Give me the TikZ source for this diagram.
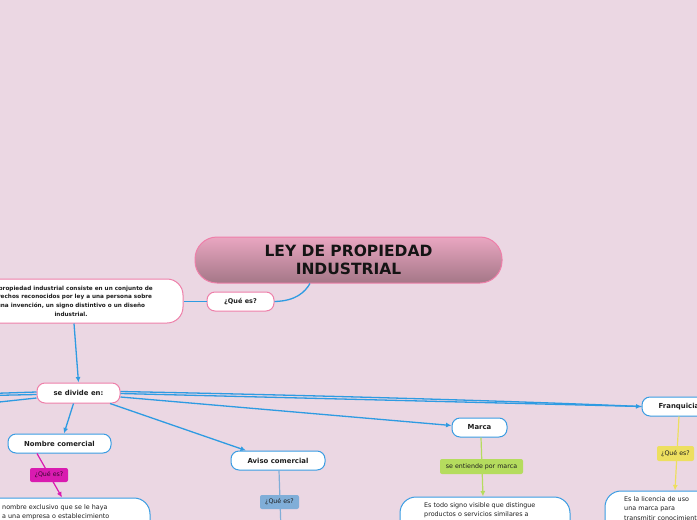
\documentclass[tikz,border=0pt]{standalone}
\usepackage{fontspec}
\setmainfont{DejaVu Sans}
\usetikzlibrary{arrows.meta,calc}
\definecolor{bg}{HTML}{EBD7E3}
\definecolor{pinkb}{HTML}{EE7FA9}
\definecolor{blueb}{HTML}{3A9CE2}
\definecolor{linkblue}{HTML}{2E9BE2}
\definecolor{magc}{HTML}{D91BB0}
\definecolor{avc}{HTML}{80AED8}
\definecolor{grc}{HTML}{B5DC5E}
\definecolor{yec}{HTML}{EDDF5F}
\definecolor{ttop}{HTML}{E9A6C1}
\definecolor{tbot}{HTML}{A47787}
\definecolor{txt}{HTML}{1E1E1E}
\tikzset{
 base/.style={draw, fill=white, line width=1pt, rounded corners=8pt, inner sep=0pt, text=txt, font=\bfseries\fontsize{6.9}{8}\selectfont},
 pinkbox/.style={base, draw=pinkb},
 bluebox/.style={base, draw=blueb},
 defbox/.style={draw=blueb, fill=white, line width=1pt, rounded corners=16pt},
 tag/.style={rounded corners=2pt, inner sep=0pt, font=\fontsize{6.3}{7.5}\selectfont, text=txt},
 link/.style={draw=linkblue, line width=1.3pt},
 arrowend/.style={-{Latex[length=5.5pt,width=5pt]}},
 bodytext/.style={anchor=north west, inner sep=0pt, align=left, font=\fontsize{6.4}{9.3}\selectfont, text=txt},
}
\begin{document}
\begin{tikzpicture}[x=1pt,y=-1pt]
\fill[bg] (0,0) rectangle (697,520);
\useasboundingbox (0,0) rectangle (697,520);
\clip (0,0) rectangle (697,520);

% main nodes
\node[draw=pinkb, line width=1pt, rounded corners=22pt, top color=ttop, bottom color=tbot, minimum width=307pt, minimum height=46pt, align=center, inner sep=0pt, font=\bfseries\fontsize{15.5}{18}\selectfont, text=black!92] (title) at (348.5,260) {LEY DE PROPIEDAD\\INDUSTRIAL};
\node[pinkbox, minimum width=67pt, minimum height=19pt, font=\bfseries\fontsize{6.5}{8}\selectfont] (qe) at (240.5,301.5) {¿Qué es?};
\node[pinkbox, rounded corners=16pt, minimum width=224pt, minimum height=44pt, align=center, font=\bfseries\fontsize{5.7}{8.7}\selectfont] (def) at (71,301) {La propiedad industrial consiste en un conjunto de\\derechos reconocidos por ley a una persona sobre\\una invención, un signo distintivo o un diseño\\industrial.};
\node[pinkbox, minimum width=83pt, minimum height=20pt] (sd) at (78.5,393) {se divide en:};
\node[bluebox, minimum width=103pt, minimum height=19pt] (nc) at (59.5,443.5) {Nombre comercial};
\node[bluebox, minimum width=94pt, minimum height=19pt] (av) at (278,460.5) {Aviso comercial};
\node[bluebox, minimum width=55pt, minimum height=19pt] (ma) at (479.5,427.5) {Marca};
\node[bluebox, minimum width=74pt, minimum height=19pt] (fr) at (679,406.5) {Franquicia};

% definition boxes
\node[defbox, minimum width=300pt, minimum height=54pt] (nd) at (0,525) {};
\node[bodytext] (ndt) at (2,504) {nombre exclusivo que se le haya\\a una empresa o establecimiento};
\node[defbox, minimum width=170pt, minimum height=54pt] (md) at (485,524) {};
\node[bodytext] (mdt) at (424,502) {Es todo signo visible que distingue\\productos o servicios similares a};
\node[defbox, minimum width=170pt, minimum height=60pt] (fd) at (690,521) {};
\node[bodytext] (fdt) at (624,496.5) {Es la licencia de uso\\una marca para\\transmitir conocimientos};

% off-canvas ends
\coordinate (l1) at (-10,393.5);
\coordinate (l2) at (-10,395.5);
\coordinate (l3) at (-10,403);
\coordinate (avend) at (281,530);

% connectors
\draw[link] (qe.east) .. controls (296,301) and (305,292) .. ($(title.south)+(-38.5,0)$);
\draw[link] (qe.west) -- (def.east |- qe.west);
\draw[link,arrowend] ($(def.south)+(3,0)$) -- (sd.north);
\draw[link,arrowend] ($(sd.south)+(-5,0)$) -- ($(nc.north)+(4.5,0)$);
\draw[link,arrowend] ($(sd.south)+(31.5,0)$) -- ($(av.north)+(-32,0)$);
\draw[link,arrowend] ($(sd.east)+(0,4)$) -- ($(ma.west)+(0,-2)$);
\draw[link] ($(sd.east)+(0,-1.5)$) .. controls (300,395) and (500,400.5) .. (fr.west);
\draw[link,arrowend] ($(sd.east)+(0,0.5)$) -- (fr.west);
\draw[link] ($(sd.west)+(0,-1)$) -- (l1);
\draw[link] ($(sd.west)+(0,1.5)$) -- (l2);
\draw[link] ($(sd.west)+(0,5)$) -- (l3);

\draw[magc, line width=1.2pt, arrowend] ($(nc.south)+(-22.5,0)$) -- ($(nd.north)+(62,0)$);
\draw[avc, line width=1.2pt] ($(av.south)+(1,0)$) -- (avend);
\draw[grc, line width=1.2pt, arrowend] ($(ma.south)+(1.5,0)$) -- ($(md.north)+(-2,0)$);
\draw[yec, line width=1.2pt, arrowend] (fr.south) -- ($(fd.north)+(-15,0)$);

% tags
\node[tag, fill=magc, minimum width=38pt, minimum height=14pt, text=black!75!magc] (t1) at (49,475) {¿Qué es?};
\node[tag, fill=avc, minimum width=39pt, minimum height=14pt] (t2) at (279.5,502) {¿Qué es?};
\node[tag, fill=grc, minimum width=83pt, minimum height=15pt] (t3) at (481.5,466.5) {se entiende por marca};
\node[tag, fill=yec, minimum width=37pt, minimum height=15pt] (t4) at (675.5,453.5) {¿Qué es?};
\end{tikzpicture}
\end{document}
